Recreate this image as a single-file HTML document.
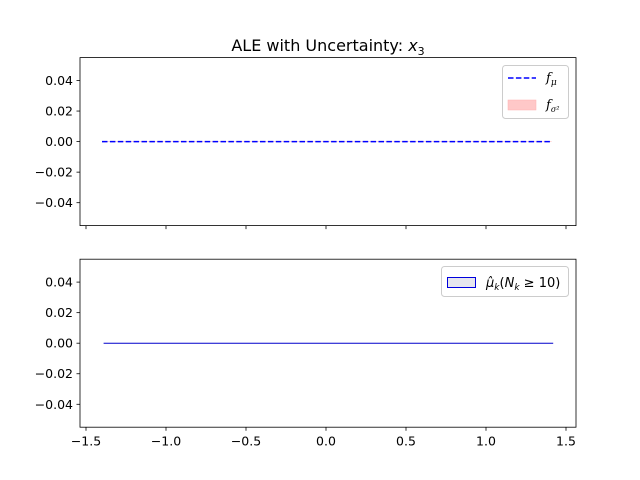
<!DOCTYPE html>
<html><head><meta charset="utf-8"><style>
body{margin:0;background:#fff}
svg{display:block;font-family:"DejaVu Sans","Liberation Sans",sans-serif}
</style></head><body>
<svg id="chart" width="640" height="480">
<rect width="640" height="480" fill="#fff"/>
<text x="328" y="51" font-size="16" text-anchor="middle">ALE with Uncertainty: <tspan font-style="italic">x</tspan><tspan font-size="11" dy="4">3</tspan></text>
<g id="g"></g>
</svg>
<script>
const xTicks=[-1.5,-1.0,-0.5,0.0,0.5,1.0,1.5];
const xTickLabels=["−1.5","−1.0","−0.5","0.0","0.5","1.0","1.5"];
const yTicks=[0.04,0.02,0.0,-0.02,-0.04];
const yTickLabels=["0.04","0.02","0.00","−0.02","−0.04"];
const muX=[-1.4,1.41];
const muY=[0,0];
const sigmaLo=[0,0];
const sigmaHi=[0,0];
const binX=[-1.39,1.42];
const binY=[0,0];
const NS="http://www.w3.org/2000/svg";
const g=document.getElementById('g');
function mk(t,a,p){const e=document.createElementNS(NS,t);for(const k in a)e.setAttribute(k,a[k]);(p||g).appendChild(e);return e;}
const L=80,R=576,xmin=-1.5375,xmax=1.5625,ymin=-0.055,ymax=0.055;
const sx=v=>L+(v-xmin)/(xmax-xmin)*(R-L);
const axes=[{top:57.6,bot:225.6,labels:false},{top:259.2,bot:427.2,labels:true}];
axes.forEach((a,i)=>{
 const sy=v=>a.bot-(v-ymin)/(ymax-ymin)*(a.bot-a.top);
 a.sy=sy;
 yTicks.forEach((t,j)=>{
  const y=sy(t);
  const tk=mk('line',{x1:L-3.5,x2:L,y1:y,y2:y,stroke:'#000','stroke-width':0.8});
  
  
  const tx=mk('text',{x:L-7,y:y+4.5,'font-size':12.5,'text-anchor':'end'});
  tx.textContent=yTickLabels[j];
  
  
 });
 xTicks.forEach((t,j)=>{
  const x=sx(t);
  const tk=mk('line',{x1:x,x2:x,y1:a.bot,y2:a.bot+3.5,stroke:'#000','stroke-width':0.8});
  
  
  if(a.labels){
   const tx=mk('text',{x:x,y:a.bot+18.5,'font-size':12.5,'text-anchor':'middle'});
   tx.textContent=xTickLabels[j];
   
   
  }
 });
});
const A=axes[0],B=axes[1];
let band='';
muX.forEach((x,i)=>band+=(i?'L':'M')+sx(x)+','+A.sy(sigmaHi[i]));
for(let i=muX.length-1;i>=0;i--)band+='L'+sx(muX[i])+','+A.sy(sigmaLo[i]);
const bd=mk('path',{d:band+'Z',fill:'#ffc8c8',stroke:'#ffc8c8','stroke-width':0.5});


const ml=mk('polyline',{points:muX.map((x,i)=>sx(x)+','+A.sy(muY[i])).join(' '),fill:'none',stroke:'#0000ff','stroke-width':1.5,'stroke-dasharray':'5.5,2.4'});


const bl=mk('polyline',{points:binX.map((x,i)=>sx(x)+','+B.sy(binY[i])).join(' '),fill:'none',stroke:'#0000cc','stroke-width':1});


axes.forEach(a=>{
 const r=mk('rect',{x:L,y:a.top,width:R-L,height:a.bot-a.top,fill:'none',stroke:'#000','stroke-width':0.8});
 
 
});
</script>
<svg width="640" height="480" style="position:absolute;left:0;top:0">
<g font-family="DejaVu Serif, Liberation Serif, serif">
<rect x="502.5" y="65.5" width="66" height="53" rx="3" fill="#fff" fill-opacity="0.8" stroke="#ccc"/>
<line x1="508" x2="536" y1="78" y2="78" stroke="#0000ff" stroke-width="1.5" stroke-dasharray="5.5,2.4"/>
<text x="546" y="82" font-size="13" font-style="italic">f<tspan font-size="9" dy="3">μ</tspan></text>
<rect x="508" y="100" width="28" height="10" fill="#ffc8c8" stroke="#ffb0b0" stroke-width="0.5"/>
<text x="546" y="109" font-size="13" font-style="italic">f<tspan font-size="8" dy="3">σ²</tspan></text>
</g>
<g>
<rect x="441.5" y="266.5" width="127" height="30" rx="3" fill="#fff" fill-opacity="0.8" stroke="#ccc"/>
<rect x="447.5" y="277.5" width="28" height="10" fill="#e6e6ee" stroke="#0000dd" stroke-width="1"/>
<text x="486" y="287" font-size="13" font-family="DejaVu Sans, Liberation Sans, sans-serif"><tspan font-style="italic">μ̂</tspan><tspan font-size="9" dy="3" font-style="italic">k</tspan><tspan dy="-3">(</tspan><tspan font-style="italic">N</tspan><tspan font-size="9" dy="3" font-style="italic">k</tspan><tspan dy="-3"> ≥ 10)</tspan></text>
</g>
</svg>
</body></html>
